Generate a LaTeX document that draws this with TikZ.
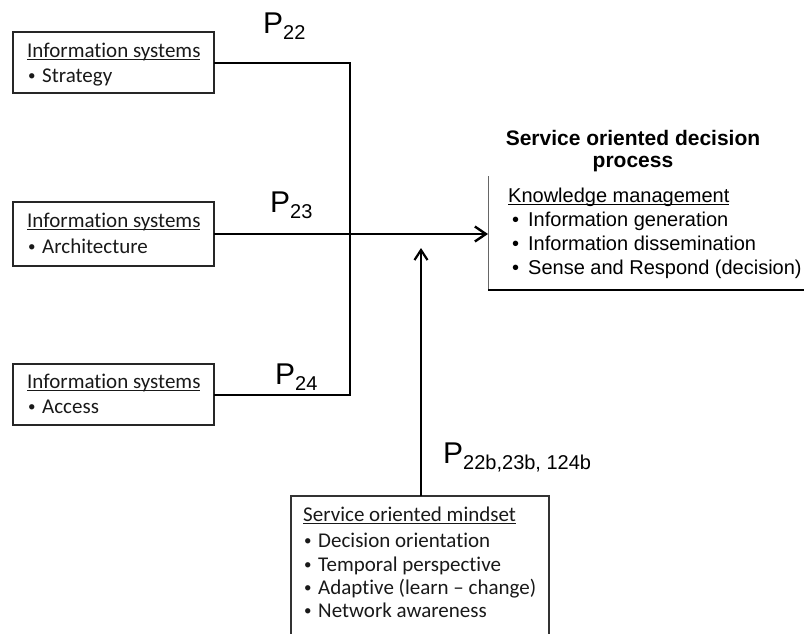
\documentclass[tikz,border=0pt]{standalone}
\usepackage{fontspec}
\setmainfont{Liberation Sans}
\newfontfamily\bodyfont[Ligatures={TeX,NoCommon}]{Carlito}
\newfontfamily\labelfont[Ligatures=TeX]{Liberation Sans}
\usetikzlibrary{arrows.meta}

% underlined text with the rule set close to the baseline
\newsavebox\ulbox
\newcommand\ulinetext[1]{\sbox\ulbox{#1}\rlap{\usebox\ulbox}\rule[-3pt]{\wd\ulbox}{1.2pt}}
% bullet list entries
\newcommand\smallbullet{\raisebox{1.5pt}{\fontsize{15}{15}\selectfont\textbullet}}
\newcommand\itemC[1]{\makebox[15pt][l]{\hspace{1pt}\smallbullet}#1}
\newcommand\itemA[1]{\makebox[20pt][l]{\hspace{4pt}\textbullet}#1}
% proposition label P with subscript
\newcommand\plab[1]{{\labelfont\fontsize{30}{30}\selectfont P}\raisebox{-6pt}{\labelfont\fontsize{20}{20}\selectfont #1}}

\begin{document}
\begin{tikzpicture}[x=1pt,y=-1pt,
  isbox/.style={draw=black!85, line width=1.2pt, anchor=north west,
    minimum width=201pt, minimum height=61pt, inner sep=0pt, outer sep=0pt},
  boxtxt/.style={anchor=base west, inner sep=0pt, text=black!90,
    font=\bodyfont\fontsize{21}{24}\selectfont},
  kmtxt/.style={anchor=base west, inner sep=0pt,
    font=\labelfont\fontsize{20}{24}\selectfont},
  titletxt/.style={anchor=base, inner sep=0pt,
    font=\labelfont\bfseries\fontsize{21}{22}\selectfont},
  plabel/.style={anchor=base west, inner sep=0pt},
  hidden/.style={anchor=north west, inner sep=0pt, outer sep=0pt},
  conn/.style={line width=2pt},
  arr/.style={conn, -{Straight Barb[length=11pt,width=15pt,line width=2.4pt]}},
  arrsmall/.style={conn, -{Straight Barb[length=10pt,width=13pt,line width=2.2pt]}}]

\useasboundingbox (0,0) rectangle (804,633);

% information systems boxes
\node[isbox] (is1) at (13,32) {};
\node[isbox, minimum height=64pt] (is2) at (13,202) {};
\node[isbox] (is3) at (13,364) {};

\node[boxtxt] (is1h) at (27,57) {\ulinetext{Information systems}};
\node[boxtxt] (is1i) at (27,82) {\itemC{Strategy}};
\node[boxtxt] (is2h) at (27,227) {\ulinetext{Information systems}};
\node[boxtxt] (is2i) at (27,253) {\itemC{Architecture}};
\node[boxtxt] (is3h) at (27,388) {\ulinetext{Information systems}};
\node[boxtxt] (is3i) at (27,413) {\itemC{Access}};

% decision process box (left and bottom edges)
\node[hidden, minimum width=330pt, minimum height=114pt] (km) at (488,176) {};
\draw[black!60, line width=1pt] (km.north west) -- (km.south west);
\draw[line width=2pt] (km.south west) -- (km.south east);

\node[titletxt] (title1) at (633,145) {Service oriented decision};
\node[titletxt] (title2) at (633,167) {process};

\node[kmtxt] (kmh) at (508,202) {\ulinetext{Knowledge management}};
\node[kmtxt] (km1) at (508,226) {\itemA{Information generation}};
\node[kmtxt] (km2) at (508,250) {\itemA{Information dissemination}};
\node[kmtxt] (km3) at (508,274) {\itemA{Sense and Respond (decision)}};

% mindset box, open at the bottom
\node[hidden, minimum width=258pt, minimum height=160pt] (mind) at (291,496) {};
\draw[black!80, line width=1.2pt] (mind.south west) -- (mind.north west)
  -- (mind.north east) -- (mind.south east);

\node[boxtxt] (mindh) at (303,521) {\ulinetext{Service oriented mindset}};
\node[boxtxt] (mind1) at (303,547) {\itemC{Decision orientation}};
\node[boxtxt] (mind2) at (303,571) {\itemC{Temporal perspective}};
\node[boxtxt] (mind3) at (303,594) {\itemC{Adaptive (learn – change)}};
\node[boxtxt] (mind4) at (303,617) {\itemC{Network awareness}};

% connectors
\coordinate (bus) at (350,62);
\draw[conn] (is1.east) -| (bus |- is3.east) -- (is3.east);
\draw[arr] (is2.east) -- (is2.east -| km.west);
\coordinate (vtip) at (421,248);
\draw[arrsmall] (mind.north -| vtip) -- (vtip);

% proposition labels
\node[plabel] (p22) at (263,33) {\plab{22}};
\node[plabel] (p23) at (270,212) {\plab{23}};
\node[plabel] (p24) at (275,384) {\plab{24}};
\node[plabel] (pmind) at (443,463) {\plab{22b,23b, 124b}};

\end{tikzpicture}
\end{document}
